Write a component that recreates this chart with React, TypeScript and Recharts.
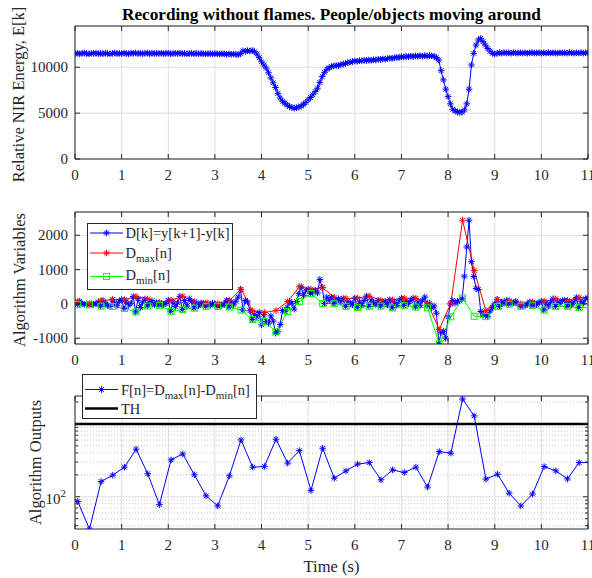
import React from 'react';
import { LineChart, Line, XAxis, YAxis, CartesianGrid, ReferenceLine, ReferenceArea } from 'recharts';

const FONT = '"Liberation Serif", "Times New Roman", serif';
const AX = '#262626';
const GRID = '#dfdfdf';
const MINOR = '#c4c4c4';
const W = 592;
const H = 578;
const PLOT_L = 75;
const PLOT_R = 588;
const TOP_T = 26, TOP_B = 159;
const MID_T = 212, MID_B = 344;
const BOT_T = 396, BOT_B = 529;

const TITLE = 'Recording without flames. People/objects moving around';
const X_TICKS = [0, 1, 2, 3, 4, 5, 6, 7, 8, 9, 10, 11];
const TOP_Y_TICKS = [0, 5000, 10000];
const MID_Y_TICKS = [-1000, 0, 1000, 2000];
const LOG_TICKS = [40, 50, 60, 70, 80, 90, 100, 200, 300, 400, 500, 600, 700, 800, 900, 1000, 2000];
const LOG_MAJOR = [100, 1000];
const TOP_DOMAIN = [0, 14500];
const MID_DOMAIN = [-1168, 2680];
const BOT_DOMAIN = [36.1, 2420];
const TH = 1000;

// sample period of E[k] and D[k] (s)
const DT = 0.05;

// Relative NIR energy E[k], one value every 0.05 s from 0 to 11 s
const E_VALUES = [
  11480, 11530, 11470, 11510, 11550, 11490, 11460, 11520, 11500, 11540,
  11470, 11510, 11480, 11530, 11500, 11460, 11520, 11550, 11490, 11510,
  11480, 11540, 11500, 11470, 11530, 11510, 11560, 11490, 11520, 11480,
  11510, 11550, 11470, 11530, 11490, 11520, 11500, 11540, 11480, 11510,
  11530, 11470, 11500, 11520, 11490, 11540, 11480, 11510, 11460, 11500,
  11520, 11480, 11510, 11470, 11500, 11490, 11450, 11480, 11500, 11460,
  11490, 11470, 11440, 11480, 11460, 11420, 11450, 11410, 11440,
  11400, 11380, 11470, 11780, 11720, 11820, 11760, 11840, 11700, 11450,
  11050, 10600, 10250, 9900, 9400, 8850, 8300, 7800, 7150, 6650,
  6300, 6080, 5880, 5720, 5610, 5540, 5580, 5650, 5780, 5950,
  6180, 6450, 6700, 7000, 7350, 7720, 8350, 8980, 9450, 9780,
  9950, 10070, 10130, 10200, 10180, 10280, 10360, 10420, 10500, 10560,
  10620, 10680, 10650, 10720, 10700, 10760, 10720, 10790, 10750, 10820,
  10790, 10870, 10850, 10910, 10880, 10950, 10990, 10960, 11040, 11080,
  11050, 11160, 11120, 11190, 11150, 11210, 11170, 11240, 11200, 11260,
  11220, 11270, 11230, 11280, 11240, 11200, 11050, 10790, 9630, 8620,
  7610, 6800, 6010, 5430, 5250, 5110, 5070, 5110, 5360, 6010,
  7610, 10250, 11520, 12420, 12970, 13150, 12790, 12420, 12050, 11760,
  11520, 11440,
  11520, 11580, 11540, 11600, 11550, 11570, 11530, 11590, 11560, 11540,
  11600, 11550, 11580, 11530, 11570, 11600, 11540, 11560, 11590, 11530,
  11570, 11550, 11600, 11540, 11580, 11560, 11530, 11590, 11550, 11570,
  11540, 11600, 11560, 11530, 11580, 11550, 11590, 11540, 11570, 11610,
];

// D[k]=y[k+1]-y[k], one value every 0.05 s
const D_VALUES = [
  40, -20, 75, 10, -15,
  5, -25, 10, -10, 0,
  60, -65, 100, 20, -40,
  -75, 125, 30, -50, 80,
  125, -130, 60, -40, 20,
  215, -235, 150, -100, 50,
  145, -60, 40, 90, -30,
  40, -40, 20, -20, 10,
  110, -215, 60, -80, 30,
  220, -165, 100, -60, 150,
  70, -120, 30, -50, 20,
  30, -70, 10, -40, 20,
  5, -70, -20, -40, 0,
  105, -90, 60, -30, 80,
  200, 425, -180, 100, 60,
  -200, -455, -300, -380, -250,
  -610, -300, -510, -560, -350,
  -500, -850, -810, -600, -190,
  -220, -100, 70, 20, -150,
  70, 300, 500, 250, 380,
  430, 305, 350, 400, 320,
  715, 475, 10, 200, 100,
  190, 10, 100, 150, 60,
  160, -70, 80, 30, -20,
  170, -110, 60, -40, 100,
  230, -65, 120, 50, -20,
  105, -65, 40, 80, -30,
  120, -115, 50, -40, 90,
  165, -50, 80, 20, 100,
  165, -90, 60, -40, 110,
  200, -30, 20, -115, -60,
  -270, -1160, -830, -800, -1000,
  -375, 0, 100, 20, 80,
  100, 150, 810, 1660, 2440,
  1230, 800, 450, 420, -220,
  -330, -300, -360, -200, -100,
  0, 130, -75, 60, 20,
  100, -10, 50, 30, 80,
  5, -70, -30, -50, 0,
  60, -50, 20, -20, 40,
  80, -180, 30, -60, 50,
  150, -75, 60, 20, 100,
  105, -70, 40, -30, 60,
  185, -110, 80, 20, 150,
  175,
];

// window times n (s)
const WIN_T = [
  0.06, 0.31, 0.56, 0.81, 1.06, 1.31, 1.56, 1.81, 2.06, 2.31,
  2.56, 2.81, 3.06, 3.31, 3.56, 3.81, 4.06, 4.31, 4.56, 4.81,
  5.06, 5.31, 5.56, 5.81, 6.06, 6.31, 6.56, 6.81, 7.06, 7.31,
  7.56, 7.81, 8.06, 8.31, 8.56, 8.81, 9.06, 9.31, 9.56, 9.81,
  10.06, 10.31, 10.56, 10.81, 11.06,
];
const DMAX = [
  75, 10, 100, 125, 125, 215, 145, 40, 110, 220,
  70, 30, 5, 105, 425, -200, -250, -190, 70, 500,
  430, 475, 190, 160, 170, 230, 105, 120, 165, 165,
  20, -745, 20, 2440, 975, -195, 130, 100, 5, 60,
  80, 150, 105, 185, 175,
];
const DMIN = [
  -20, -25, -65, -75, -130, -235, -60, -40, -215, -165,
  -120, -70, -70, -90, -180, -455, -510, -810, -220, 70,
  305, 10, 10, -70, -110, -65, -65, -115, -50, -90,
  -115, -1160, -375, 175, -360, -370, -75, -10, -70, -50,
  -180, -75, -70, -110, -100,
];
const F_VALUES = [
  86, 36, 162, 198, 255, 450, 207, 78, 321, 388,
  200, 103, 75, 194, 603, 255, 260, 617, 290, 430,
  122, 464, 180, 227, 281, 295, 171, 234, 215, 255,
  136, 417, 397, 2200, 1290, 175, 204, 112, 75, 109,
  260, 227, 176, 295, 295,
];

const E_ROWS = E_VALUES.map((v, i) => ({ t: i * DT, v }));
const D_ROWS = D_VALUES.map((v, i) => ({ t: i * DT, v }));
const MAX_ROWS = WIN_T.map((t, i) => ({ t, v: DMAX[i] }));
const MIN_ROWS = WIN_T.map((t, i) => ({ t, v: DMIN[i] }));
const F_ROWS = WIN_T.map((t, i) => ({ t, v: F_VALUES[i] }));

function Star({ cx, cy, color, r = 3.3 }: any) {
  const d = r * 0.72;
  return (
    <g stroke={color} strokeWidth={1} fill="none">
      <line x1={cx - r} y1={cy} x2={cx + r} y2={cy} />
      <line x1={cx} y1={cy - r} x2={cx} y2={cy + r} />
      <line x1={cx - d} y1={cy - d} x2={cx + d} y2={cy + d} />
      <line x1={cx - d} y1={cy + d} x2={cx + d} y2={cy - d} />
    </g>
  );
}

function Square({ cx, cy, color, s = 6 }: any) {
  return <rect x={cx - s / 2} y={cy - s / 2} width={s} height={s} fill="none" stroke={color} strokeWidth={1} />;
}

const starDot = (color: string) => (p: any) => {
  if (p.cx == null || p.cy == null || isNaN(p.cx) || isNaN(p.cy)) return <g key={`e${p.index}`} />;
  return (
    <g key={`s${p.index}`}>
      <Star cx={p.cx} cy={p.cy} color={color} />
    </g>
  );
};
const squareDot = (color: string) => (p: any) => {
  if (p.cx == null || p.cy == null || isNaN(p.cx) || isNaN(p.cy)) return <g key={`e${p.index}`} />;
  return (
    <g key={`q${p.index}`}>
      <Square cx={p.cx} cy={p.cy} color={color} />
    </g>
  );
};

const makeXTick = (plotTop: number) => (p: any) => {
  const { x, y, payload } = p;
  return (
    <g key={`xt${payload.value}`}>
      <line x1={x} x2={x} y1={y} y2={y - 5} stroke={AX} strokeWidth={1} />
      <line x1={x} x2={x} y1={plotTop} y2={plotTop + 5} stroke={AX} strokeWidth={1} />
      <text x={x} y={y + 16} textAnchor="middle" dominantBaseline="central" fontFamily={FONT} fontSize={15} fill={AX}>
        {payload.value}
      </text>
    </g>
  );
};

const makeYTick = (kind: 'lin' | 'log') => (p: any) => {
  const { x, y, payload } = p;
  const v = payload.value;
  const major = kind === 'lin' || LOG_MAJOR.includes(v);
  const len = major ? 5 : 3;
  let label: any = null;
  if (kind === 'lin') {
    label = (
      <text x={x - 7} y={y} textAnchor="end" dominantBaseline="central" fontFamily={FONT} fontSize={15} fill={AX}>
        {v}
      </text>
    );
  } else if (v === 100) {
    label = (
      <text x={x - 9} y={y + 7} textAnchor="end" fontFamily={FONT} fontSize={15} fill={AX}>
        10<tspan fontSize={11} dy={-7}>2</tspan>
      </text>
    );
  }
  return (
    <g key={`yt${v}`}>
      <line x1={x} x2={x + len} y1={y} y2={y} stroke={AX} strokeWidth={1} />
      <line x1={PLOT_R} x2={PLOT_R - len} y1={y} y2={y} stroke={AX} strokeWidth={1} />
      {label}
    </g>
  );
};

const wrap: React.CSSProperties = { position: 'absolute', left: 0, top: 0 };

function TopPanel() {
  return (
    <div style={wrap}>
      <LineChart width={W} height={H} margin={{ top: TOP_T, right: W - PLOT_R, left: 0, bottom: H - TOP_B - 30 }}>
        <CartesianGrid stroke={GRID} strokeWidth={1} />
        <XAxis type="number" dataKey="t" domain={[0, 11]} ticks={X_TICKS} interval={0} tickSize={0} tickMargin={0}
          tick={makeXTick(TOP_T)} axisLine={false} tickLine={false} allowDataOverflow height={30} />
        <YAxis type="number" dataKey="v" domain={TOP_DOMAIN} ticks={TOP_Y_TICKS} interval={0} tickSize={0} tickMargin={0}
          tick={makeYTick('lin')} axisLine={false} tickLine={false} allowDataOverflow width={PLOT_L} />
        <Line data={E_ROWS} dataKey="v" stroke="#0000ff" strokeWidth={1} dot={starDot('#0000ff')} activeDot={false}
          isAnimationActive={false} />
        <ReferenceArea x1={0} x2={11} y1={TOP_DOMAIN[0]} y2={TOP_DOMAIN[1]} fill="none" stroke={AX} strokeWidth={1} />
      </LineChart>
    </div>
  );
}

function MidPanel() {
  return (
    <div style={wrap}>
      <LineChart width={W} height={H} margin={{ top: MID_T, right: W - PLOT_R, left: 0, bottom: H - MID_B - 30 }}>
        <CartesianGrid stroke={GRID} strokeWidth={1} />
        <XAxis type="number" dataKey="t" domain={[0, 11]} ticks={X_TICKS} interval={0} tickSize={0} tickMargin={0}
          tick={makeXTick(MID_T)} axisLine={false} tickLine={false} allowDataOverflow height={30} />
        <YAxis type="number" dataKey="v" domain={MID_DOMAIN} ticks={MID_Y_TICKS} interval={0} tickSize={0} tickMargin={0}
          tick={makeYTick('lin')} axisLine={false} tickLine={false} allowDataOverflow width={PLOT_L} />
        <Line data={D_ROWS} dataKey="v" stroke="#0000ff" strokeWidth={1} dot={starDot('#0000ff')} activeDot={false}
          isAnimationActive={false} />
        <Line data={MAX_ROWS} dataKey="v" stroke="#ff0000" strokeWidth={1} dot={starDot('#ff0000')} activeDot={false}
          isAnimationActive={false} />
        <Line data={MIN_ROWS} dataKey="v" stroke="#00ff00" strokeWidth={1} dot={squareDot('#00ff00')} activeDot={false}
          isAnimationActive={false} />
        <ReferenceArea x1={0} x2={11} y1={MID_DOMAIN[0]} y2={MID_DOMAIN[1]} fill="none" stroke={AX} strokeWidth={1} />
      </LineChart>
    </div>
  );
}

function BotPanel() {
  return (
    <div style={wrap}>
      <LineChart width={W} height={H} margin={{ top: BOT_T, right: W - PLOT_R, left: 0, bottom: H - BOT_B - 30 }}>
        <CartesianGrid stroke={GRID} strokeWidth={1} horizontal={false} />
        {LOG_TICKS.map((v) =>
          LOG_MAJOR.includes(v) ? (
            <ReferenceLine key={`g${v}`} y={v} stroke={GRID} strokeWidth={1} />
          ) : (
            <ReferenceLine key={`g${v}`} y={v} stroke={MINOR} strokeWidth={1} strokeDasharray="1 2" />
          )
        )}
        <XAxis type="number" dataKey="t" domain={[0, 11]} ticks={X_TICKS} interval={0} tickSize={0} tickMargin={0}
          tick={makeXTick(BOT_T)} axisLine={false} tickLine={false} allowDataOverflow height={30} />
        <YAxis type="number" dataKey="v" scale="log" domain={BOT_DOMAIN} ticks={LOG_TICKS} interval={0} tickSize={0}
          tickMargin={0} tick={makeYTick('log')} axisLine={false} tickLine={false} allowDataOverflow width={PLOT_L} />
        <Line data={F_ROWS} dataKey="v" stroke="#0000ff" strokeWidth={1} dot={starDot('#0000ff')} activeDot={false}
          isAnimationActive={false} />
        <ReferenceLine y={TH} stroke="#000000" strokeWidth={2.5} />
        <ReferenceArea x1={0} x2={11} y1={BOT_DOMAIN[0]} y2={BOT_DOMAIN[1]} fill="none" stroke={AX} strokeWidth={1} />
      </LineChart>
    </div>
  );
}

function Overlay() {
  const cx = (PLOT_L + PLOT_R) / 2;
  const t = { fontFamily: FONT, fill: AX } as any;
  return (
    <svg width={W} height={H} style={{ position: 'absolute', left: 0, top: 0, pointerEvents: 'none' }}>
      <text x={cx} y={14} textAnchor="middle" dominantBaseline="central" fontFamily={FONT} fontSize={17.2} fontWeight="bold" fill="#000">
        {TITLE}
      </text>
      <text {...t} fontSize={16.5} textAnchor="middle" dominantBaseline="central" transform={`translate(18, ${(TOP_T + TOP_B) / 2 + 2}) rotate(-90)`}>
        Relative NIR Energy, E[k]
      </text>
      <text {...t} fontSize={16.5} textAnchor="middle" dominantBaseline="central" transform={`translate(19, ${(MID_T + MID_B) / 2 + 2}) rotate(-90)`}>
        Algorithm Variables
      </text>
      <text {...t} fontSize={16.5} textAnchor="middle" dominantBaseline="central" transform={`translate(35, ${(BOT_T + BOT_B) / 2}) rotate(-90)`}>
        Algorithm Outputs
      </text>
      <text {...t} fontSize={16.5} textAnchor="middle" dominantBaseline="central" x={cx} y={566}>
        Time (s)
      </text>

      {/* middle legend */}
      <rect x={87.5} y={223.5} width={145} height={66} fill="#fff" stroke={AX} strokeWidth={1} />
      <line x1={90} x2={123} y1={233} y2={233} stroke="#0000ff" strokeWidth={1} />
      <Star cx={106.5} cy={233} color="#0000ff" />
      <text {...t} fontSize={14.5} x={125.5} y={238}>D[k]=y[k+1]-y[k]</text>
      <line x1={90} x2={123} y1={253} y2={253} stroke="#ff0000" strokeWidth={1} />
      <Star cx={106.5} cy={253} color="#ff0000" />
      <text {...t} fontSize={14.5} x={125.5} y={258}>
        D<tspan fontSize={11} dy={4}>max</tspan><tspan dy={-4}>[n]</tspan>
      </text>
      <line x1={90} x2={123} y1={276.5} y2={276.5} stroke="#00ff00" strokeWidth={1} />
      <Square cx={106.5} cy={276.5} color="#00ff00" />
      <text {...t} fontSize={14.5} x={125.5} y={280}>
        D<tspan fontSize={11} dy={4}>min</tspan><tspan dy={-4}>[n]</tspan>
      </text>

      {/* bottom legend */}
      <rect x={82.5} y={374.5} width={174} height={44} fill="#fff" stroke={AX} strokeWidth={1} />
      <line x1={85} x2={118} y1={389.5} y2={389.5} stroke="#0000ff" strokeWidth={1} />
      <Star cx={101.5} cy={389.5} color="#0000ff" />
      <text {...t} fontSize={14.5} x={121} y={395}>
        F[n]=D<tspan fontSize={11} dy={4}>max</tspan><tspan dy={-4}>[n]-D</tspan><tspan fontSize={11} dy={4}>min</tspan><tspan dy={-4}>[n]</tspan>
      </text>
      <line x1={85} x2={118} y1={408.5} y2={408.5} stroke="#000" strokeWidth={2.5} />
      <text {...t} fontSize={14.5} x={121} y={413.5}>TH</text>
    </svg>
  );
}

export default function App() {
  return (
    <div style={{ position: 'absolute', left: 0, top: 0, width: W, height: H, background: '#fff', overflow: 'hidden' }}>
      <TopPanel />
      <MidPanel />
      <BotPanel />
      <Overlay />
    </div>
  );
}
